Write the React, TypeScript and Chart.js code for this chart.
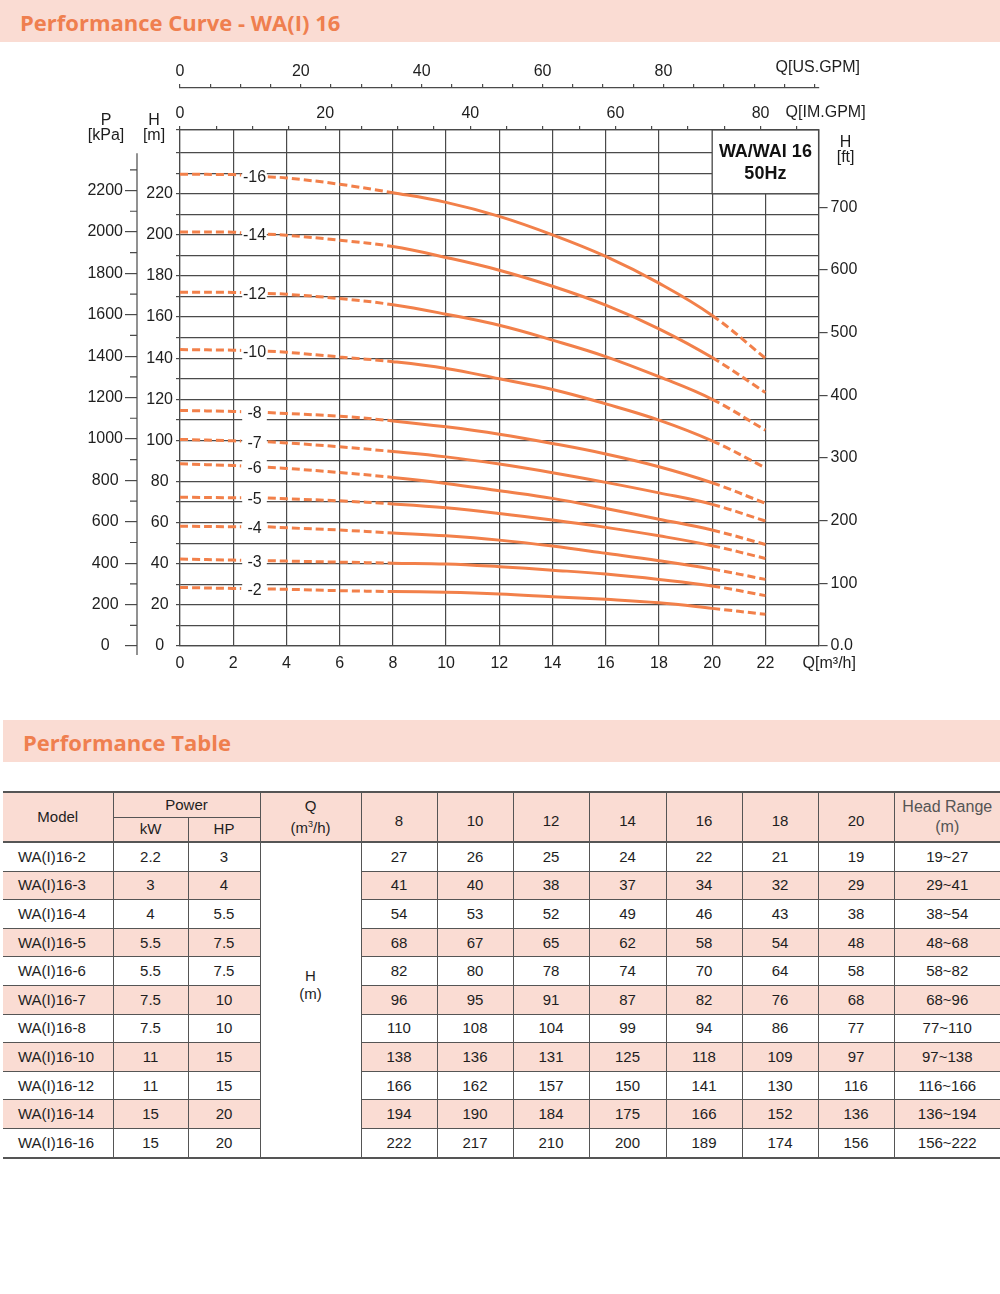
import React, { useEffect, useRef } from 'react';
import { Chart, registerables } from 'chart.js';

Chart.register(...registerables);

// ---------- chart data ----------
const flowPoints = [0, 2, 2.3, 3.3, 4, 6, 8, 10, 12, 14, 16, 18, 20, 22];
const stageLabels = ['-16', '-14', '-12', '-10', '-8', '-7', '-6', '-5', '-4', '-3', '-2'];
const head16 = [229.5, 229.3, 229.1, 228.2, 227.7, 224.6, 220.5, 215.8, 209, 200, 189.5, 176.5, 160.8, 140];
const head14 = [201.4, 201.3, 201.0, 200.3, 199.8, 197.4, 194.3, 189, 182.8, 175, 165.8, 154.3, 140.3, 123.3];
const head12 = [172.1, 172, 171.9, 171.5, 171.1, 169, 166, 161.4, 156, 148.8, 140.8, 131, 120, 105];
const head10 = [144.2, 143.9, 143.8, 143.4, 142.9, 140.6, 138.3, 135, 130, 124.8, 117.8, 109.9, 99.8, 86.7];
const head8 = [114.6, 114.1, 114.0, 113.6, 113.1, 111.8, 109.5, 106.6, 103, 98.5, 93.4, 87.2, 79.4, 69.4];
const head7 = [100.5, 99.8, 99.7, 99.3, 98.8, 96.9, 94.6, 92, 88.5, 84.3, 79.6, 74.5, 68.9, 60.8];
const head6 = [88.6, 87.8, 87.6, 86.9, 86.4, 84.4, 82, 79.1, 75.5, 71.8, 66.9, 61.7, 56.4, 49.4];
const head5 = [72.4, 72.1, 72.1, 72, 71.6, 70.6, 69.1, 67.2, 64.5, 61.3, 57.7, 53.6, 48.8, 42.6];
const head4 = [58.3, 58, 58, 58, 57.5, 56.4, 55, 53.6, 51.5, 48.6, 45.1, 41.5, 37.4, 32.4];
const head3 = [42.3, 41.8, 41.7, 41.5, 41.3, 40.8, 40.3, 39.9, 38.6, 36.9, 35, 32.4, 29.2, 24.5];
const head2 = [28.5, 28, 28, 27.7, 27.6, 26.9, 26.5, 26.1, 25.3, 24, 22.7, 21, 18.3, 15.4];
const curves = [head16, head14, head12, head10, head8, head7, head6, head5, head4, head3, head2];

const modelName = 'WA/WAI 16';
const modelFreq = '50Hz';

// ---------- table data ----------
const tableModels = ['WA(I)16-2', 'WA(I)16-3', 'WA(I)16-4', 'WA(I)16-5', 'WA(I)16-6', 'WA(I)16-7', 'WA(I)16-8', 'WA(I)16-10', 'WA(I)16-12', 'WA(I)16-14', 'WA(I)16-16'];
const tableKw = ['2.2', '3', '4', '5.5', '5.5', '7.5', '7.5', '11', '11', '15', '15'];
const tableHp = ['3', '4', '5.5', '7.5', '7.5', '10', '10', '15', '15', '20', '20'];
const tableFlows = ['8', '10', '12', '14', '16', '18', '20'];
const tableHeads = [
  [27, 26, 25, 24, 22, 21, 19],
  [41, 40, 38, 37, 34, 32, 29],
  [54, 53, 52, 49, 46, 43, 38],
  [68, 67, 65, 62, 58, 54, 48],
  [82, 80, 78, 74, 70, 64, 58],
  [96, 95, 91, 87, 82, 76, 68],
  [110, 108, 104, 99, 94, 86, 77],
  [138, 136, 131, 125, 118, 109, 97],
  [166, 162, 157, 150, 141, 130, 116],
  [194, 190, 184, 175, 166, 152, 136],
  [222, 217, 210, 200, 189, 174, 156],
];
const tableRanges = ['19~27', '29~41', '38~54', '48~68', '58~82', '68~96', '77~110', '97~138', '116~166', '136~194', '156~222'];

// ---------- styles / conversions ----------
const FONT = "'Liberation Sans', Arial, Helvetica, sans-serif";
const TITLE_FONT = "'Open Sans', 'Liberation Sans', Arial, sans-serif";
const GRID = '#4a4a4a';
const TEXT = '#1e1e1e';
const CURVE = '#f2804a';
const PINK = '#fadcd3';
const ORANGE = '#ef7f4f';
const IM_PER_M3H = 3.6662;
const US_PER_M3H = 4.4029;
const KPA_PER_M = 9.93;
const FT_PER_M = 3.2808;
const H_MAX = 251;
const Q_MAX = 24;
const LABEL_Q = 2.8;

const overlayPlugin = {
  id: 'overlay',
  afterDatasetsDraw(chart: any) {
    const { ctx, chartArea, scales } = chart;
    const xs = scales.x;
    const ys = scales.y;
    ctx.save();
    ctx.font = `16px ${FONT}`;
    ctx.textAlign = 'center';
    ctx.textBaseline = 'middle';
    curves.forEach((vals, i) => {
      const v = (vals[2] + vals[3]) / 2;
      const px = xs.getPixelForValue(LABEL_Q);
      const py = ys.getPixelForValue(v) + 2;
      const x0 = xs.getPixelForValue(flowPoints[2]) + 1;
      const x1 = xs.getPixelForValue(flowPoints[3]) - 1;
      ctx.fillStyle = '#ffffff';
      ctx.fillRect(x0, py - 9, x1 - x0, 17);
      ctx.fillStyle = TEXT;
      ctx.fillText(stageLabels[i], px, py);
    });
    const bx0 = xs.getPixelForValue(20);
    const bx1 = chartArea.right;
    const by0 = chartArea.top;
    const by1 = ys.getPixelForValue(220);
    ctx.fillStyle = '#ffffff';
    ctx.fillRect(bx0, by0, bx1 - bx0, by1 - by0);
    ctx.strokeStyle = GRID;
    ctx.lineWidth = 1.3;
    ctx.strokeRect(bx0, by0, bx1 - bx0, by1 - by0);
    ctx.fillStyle = '#111';
    ctx.font = `bold 18px ${FONT}`;
    ctx.fillText(modelName, (bx0 + bx1) / 2, by0 + 22);
    ctx.fillText(modelFreq, (bx0 + bx1) / 2, by0 + 44);
    ctx.restore();
  },
  afterDraw(chart: any) {
    const { ctx, chartArea, scales } = chart;
    const kpa = scales.yKpa;
    const us = scales.xUs;
    const hs = scales.y;
    ctx.save();
    ctx.strokeStyle = GRID;
    ctx.lineWidth = 1.2;
    ctx.beginPath();
    ctx.moveTo(kpa.right, kpa.getPixelForValue(2380));
    ctx.lineTo(kpa.right, chartArea.bottom + 9);
    for (let v = 100; v <= 2300; v += 200) {
      const py = kpa.getPixelForValue(v);
      ctx.moveTo(kpa.right - 7, py);
      ctx.lineTo(kpa.right, py);
    }
    ctx.stroke();
    ctx.fillStyle = TEXT;
    ctx.font = `16px ${FONT}`;
    ctx.textBaseline = 'middle';
    ctx.textAlign = 'left';
    ctx.fillText('Q[US.GPM]', chartArea.right - 43, us.bottom - 20);
    ctx.fillText('Q[IM.GPM]', chartArea.right - 33, chartArea.top - 17);
    ctx.fillText('Q[m³/h]', chartArea.right - 16, chartArea.bottom + 18);
    ctx.textAlign = 'center';
    ctx.fillText('P', kpa.right - 31, chartArea.top - 9);
    ctx.fillText('[kPa]', kpa.right - 31, chartArea.top + 6);
    ctx.fillText('H', hs.left + 17, chartArea.top - 9);
    ctx.fillText('[m]', hs.left + 17, chartArea.top + 6);
    ctx.fillText('H', chartArea.right + 27, chartArea.top + 13);
    ctx.fillText('[ft]', chartArea.right + 27, chartArea.top + 28);
    ctx.restore();
  },
};

function CurveChart() {
  const ref = useRef<HTMLCanvasElement | null>(null);
  useEffect(() => {
    if (!ref.current) return;
    const tickFont = { family: FONT, size: 16 };
    const datasets = curves.map((vals, i) => {
      const pts: any[] = [];
      flowPoints.forEach((q, k) => {
        pts.push({ x: q, y: vals[k] });
        if (k === 2) pts.push({ x: LABEL_Q, y: null });
      });
      return {
        label: stageLabels[i],
        data: pts,
        borderColor: CURVE,
        borderWidth: 3,
        pointRadius: 0,
        fill: false,
        spanGaps: false,
        tension: 0.4,
        segment: {
          borderDash: (c: any) => (c.p0.parsed.x < 7.99 || c.p0.parsed.x >= 19.99 ? [8, 4] : undefined),
        },
      };
    });
    const chart = new Chart(ref.current, {
      type: 'line',
      data: { datasets },
      plugins: [overlayPlugin],
      options: {
        animation: false,
        responsive: false,
        devicePixelRatio: 1,
        layout: { padding: { left: 0, right: 121.4, top: 0, bottom: 0 } },
        plugins: { legend: { display: false }, tooltip: { enabled: false } },
        scales: {
          x: {
            type: 'linear', position: 'bottom', min: 0, max: Q_MAX,
            ticks: { stepSize: 2, autoSkip: false, maxRotation: 0, padding: 8, color: TEXT, font: tickFont,
              callback: (v: any) => (Number(v) < 23 ? String(v) : '') },
            grid: { color: GRID, lineWidth: 1.2, drawTicks: false },
            border: { color: GRID, width: 1.2 },
            afterFit: (s: any) => { s.height = 44; },
          },
          xIm: {
            type: 'linear', position: 'top', min: 0, max: Q_MAX * IM_PER_M3H, weight: 0,
            ticks: { stepSize: 5, includeBounds: false, autoSkip: false, maxRotation: 0, padding: 3, color: TEXT, font: tickFont,
              callback: (v: any) => (Number(v) % 20 === 0 ? String(v) : '') },
            grid: { drawOnChartArea: false, tickLength: 4, color: GRID, lineWidth: 1.2 },
            border: { color: GRID, width: 1.2 },
            afterFit: (s: any) => { s.height = 42; },
          },
          xUs: {
            type: 'linear', position: 'top', min: 0, max: Q_MAX * US_PER_M3H, weight: 1,
            ticks: { stepSize: 5, includeBounds: false, autoSkip: false, maxRotation: 0, padding: 3, color: TEXT, font: tickFont,
              callback: (v: any) => (Number(v) % 20 === 0 && Number(v) <= 80 ? String(v) : '') },
            grid: { drawOnChartArea: false, tickLength: 4, color: GRID, lineWidth: 1.2 },
            border: { color: GRID, width: 1.2 },
            afterFit: (s: any) => { s.height = 43; },
          },
          y: {
            type: 'linear', position: 'left', min: 0, max: H_MAX, weight: 0,
            ticks: { stepSize: 10, autoSkip: false, padding: 3, crossAlign: 'center', color: TEXT, font: tickFont,
              callback: (v: any) => (Number(v) % 20 === 0 && Number(v) <= 220 ? String(v) : '') },
            grid: { color: GRID, lineWidth: 1.2, tickLength: 4 },
            border: { color: GRID, width: 1.2 },
            afterFit: (s: any) => { s.width = 43; },
          },
          yKpa: {
            type: 'linear', position: 'left', min: 0, max: H_MAX * KPA_PER_M, weight: 1,
            ticks: { stepSize: 200, autoSkip: false, padding: 2, crossAlign: 'center', color: TEXT, font: tickFont,
              callback: (v: any) => String(v) },
            afterBuildTicks: (s: any) => { s.ticks = s.ticks.filter((t: any) => t.value <= 2200); },
            grid: { drawOnChartArea: false, tickLength: 12, color: GRID, lineWidth: 1.2 },
            border: { display: false },
            afterFit: (s: any) => { s.width = 137; },
          },
          yFt: {
            type: 'linear', position: 'right', min: 0, max: H_MAX * FT_PER_M,
            ticks: { stepSize: 100, autoSkip: false, padding: 3, color: TEXT, font: tickFont,
              callback: (v: any) => (Number(v) === 0 ? '0.0' : String(v)) },
            afterBuildTicks: (s: any) => { s.ticks = s.ticks.filter((t: any) => t.value <= 700); },
            grid: { drawOnChartArea: false, tickLength: 9, color: GRID, lineWidth: 1.2 },
            border: { color: GRID, width: 1.2 },
            afterFit: (s: any) => { s.width = 60; },
          },
        },
      } as any,
    });
    return () => chart.destroy();
  }, []);
  return (
    <canvas ref={ref} width={1000} height={645}
      style={{ position: 'absolute', left: 0, top: 45, width: 1000, height: 645 }} />
  );
}

const barStyle = (top: number, left: number): React.CSSProperties => ({
  position: 'absolute', top, left, width: 1000 - left, height: 42, background: PINK,
  display: 'flex', alignItems: 'center', boxSizing: 'border-box',
});
const barText: React.CSSProperties = {
  fontFamily: TITLE_FONT, fontWeight: 700, fontSize: 22, color: ORANGE, whiteSpace: 'nowrap', marginTop: 2,
};

const cellBase: React.CSSProperties = {
  fontFamily: FONT, fontSize: 15, color: TEXT, textAlign: 'center', verticalAlign: 'middle',
  padding: 0, borderRight: '1px solid #555', borderBottom: '1px solid #555', lineHeight: '18px',
};

function PerfTable() {
  const colWidths = [110, 75, 72, 101, 76, 76, 76, 77, 76, 76, 76, 106];
  const hdr: React.CSSProperties = { ...cellBase, background: PINK };
  const hdrBottom: React.CSSProperties = { ...hdr, borderBottom: '2px solid #555' };
  return (
    <table style={{ position: 'absolute', top: 791, left: 3, width: 997, borderCollapse: 'collapse', tableLayout: 'fixed', borderTop: '2px solid #555', borderBottom: '2px solid #555' }}>
      <colgroup>
        {colWidths.map((w, i) => <col key={i} style={{ width: w }} />)}
      </colgroup>
      <thead>
        <tr style={{ height: 25 }}>
          <th rowSpan={2} style={{ ...hdrBottom, fontWeight: 400 }}>Model</th>
          <th colSpan={2} style={{ ...hdr, fontWeight: 400 }}>Power</th>
          <th rowSpan={2} style={{ ...hdrBottom, fontWeight: 400 }}>Q<br />(m<sup style={{ fontSize: 9 }}>3</sup>/h)</th>
          {tableFlows.map((f) => (
            <th key={f} rowSpan={2} style={{ ...hdrBottom, fontWeight: 400, paddingTop: 8 }}>{f}</th>
          ))}
          <th rowSpan={2} style={{ ...hdrBottom, fontWeight: 400, borderRight: 'none', color: '#555', fontSize: 16, lineHeight: '20px' }}>Head Range<br />(m)</th>
        </tr>
        <tr style={{ height: 25 }}>
          <th style={{ ...hdrBottom, fontWeight: 400 }}>kW</th>
          <th style={{ ...hdrBottom, fontWeight: 400 }}>HP</th>
        </tr>
      </thead>
      <tbody>
        {tableModels.map((m, r) => {
          const bg = r % 2 === 1 ? PINK : '#ffffff';
          const c: React.CSSProperties = { ...cellBase, background: bg, height: 27.6 };
          const last = r === tableModels.length - 1;
          const cc: React.CSSProperties = last ? { ...c, borderBottom: 'none' } : c;
          return (
            <tr key={m}>
              <td style={{ ...cc, textAlign: 'left', paddingLeft: 15 }}>{m}</td>
              <td style={cc}>{tableKw[r]}</td>
              <td style={cc}>{tableHp[r]}</td>
              {r === 0 && (
                <td rowSpan={tableModels.length} style={{ ...cellBase, background: '#ffffff', borderBottom: 'none', paddingBottom: 30 }}>H<br />(m)</td>
              )}
              {tableHeads[r].map((h, k) => (
                <td key={k} style={cc}>{h}</td>
              ))}
              <td style={{ ...cc, borderRight: 'none' }}>{tableRanges[r]}</td>
            </tr>
          );
        })}
      </tbody>
    </table>
  );
}

export default function App() {
  return (
    <div style={{ position: 'absolute', top: 0, left: 0, width: 1000, height: 1294, background: '#fff', overflow: 'hidden' }}>
      <div style={barStyle(0, 0)}>
        <span style={{ ...barText, marginLeft: 20 }}>Performance Curve - WA(I) 16</span>
      </div>
      <CurveChart />
      <div style={barStyle(720, 3)}>
        <span style={{ ...barText, marginLeft: 20 }}>Performance Table</span>
      </div>
      <PerfTable />
    </div>
  );
}
